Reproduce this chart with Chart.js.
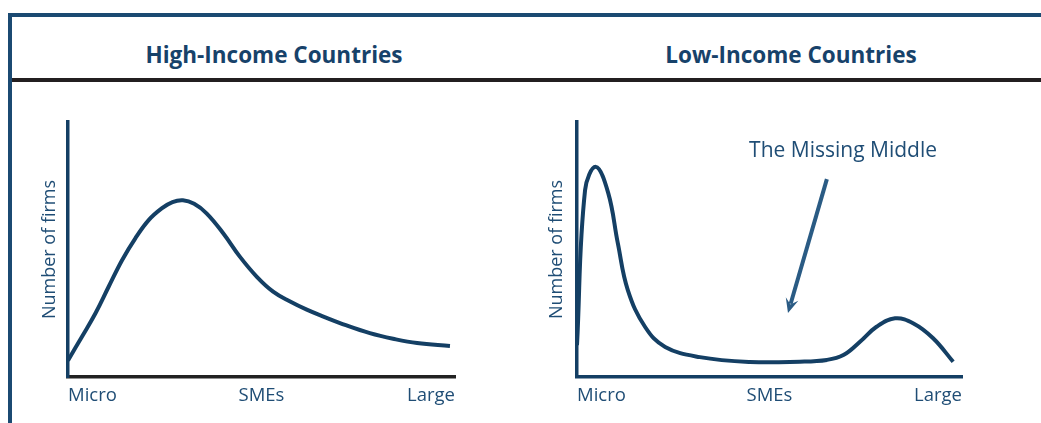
<!DOCTYPE html>
<html>
<head>
<meta charset="utf-8">
<script src="https://cdn.jsdelivr.net/npm/chart.js@4.4.0/dist/chart.umd.min.js"></script>
<style>
  html, body { margin: 0; padding: 0; background: #fff; }
  body { width: 1041px; height: 423px; position: relative; overflow: hidden; font-family: "Open Sans", sans-serif; }
  .rule { position: absolute; }
  .head { position: absolute; top: 39px; font-weight: 700; font-size: 22.5px; color: #17426a; text-align: center; line-height: 32px; white-space: nowrap; }
  .box { position: absolute; top: 90px; height: 333px; }
</style>
</head>
<body>
<div class="rule" style="left:8px;top:13px;width:1033px;height:4px;background:#1b4a72"></div>
<div class="rule" style="left:8px;top:13px;width:4px;height:410px;background:#1b4a72"></div>
<div class="rule" style="left:12px;top:78px;width:1029px;height:4px;background:#231f20"></div>
<div class="head" style="left:124px;width:300px">High-Income Countries</div>
<div class="head" style="left:641px;width:300px">Low-Income Countries</div>

<div class="box" style="left:0;width:520px"><canvas id="chart-high"></canvas></div>
<div class="box" style="left:520px;width:521px"><canvas id="chart-low"></canvas></div>

<script>
// 企業規模の分布（概念図）：x = 規模 0..100, y = 企業数 0..100
const sizeLabels = ['Micro', 'SMEs', 'Large'];
const sizeTicks = [0, 50, 100];
const yTitle = 'Number of firms';

const highX = [0, 3.6, 7.1, 10.5, 14.0, 17.4, 20.9, 24.3, 27.0, 29.7, 32.6, 35.8, 40.1, 44.4, 48.8, 53.0, 57.4, 61.7, 66.0, 72.0, 78.0, 84.0, 90.2, 98.7];
const highY = [6.5, 15.8, 25.0, 35.4, 45.9, 54.4, 61.6, 66.2, 68.6, 69.3, 67.9, 64.2, 56.4, 47.2, 39.3, 33.5, 29.6, 26.4, 23.7, 20.2, 17.2, 15.0, 13.3, 12.2];

const lowX = [0, 2.1, 4.9, 8.1, 10.6, 13.2, 17.7, 22.9, 31.9, 44.9, 57.9, 64.9, 69.2, 73.5, 77.8, 82.6, 87.4, 92.5, 97.7];
const lowY = [12.5, 73.3, 82.4, 72.2, 52.5, 34.1, 19.6, 11.8, 7.8, 5.9, 6.0, 6.7, 8.6, 13.8, 19.7, 23.0, 21.0, 15.2, 6.0];

// 矢印と注記（データ座標）
const noteText = 'The Missing Middle';
const notePos = [69.1, 88.6];
const arrowFrom = [64.9, 77.6];
const arrowTo = [54.8, 25.1];

const NAVY = '#143f64';
const TEXT = '#1f4d75';
const FONT = '"Open Sans", sans-serif';

function _points(xs, ys) {
  return xs.map((x, i) => ({ x, y: ys[i] }));
}

const arrowPlugin = {
  id: 'missingMiddle',
  afterDatasetsDraw(chart) {
    const { ctx, scales: { x, y } } = chart;
    const x1 = x.getPixelForValue(arrowFrom[0]), y1 = y.getPixelForValue(arrowFrom[1]);
    const x2 = x.getPixelForValue(arrowTo[0]), y2 = y.getPixelForValue(arrowTo[1]);
    const a = Math.atan2(y2 - y1, x2 - x1);
    const head = 16;
    ctx.save();
    ctx.strokeStyle = '#2a5b84';
    ctx.fillStyle = '#2a5b84';
    ctx.lineWidth = 4;
    ctx.beginPath();
    ctx.moveTo(x1, y1);
    ctx.lineTo(x2 - Math.cos(a) * head * 0.6, y2 - Math.sin(a) * head * 0.6);
    ctx.stroke();
    ctx.beginPath();
    ctx.moveTo(x2, y2);
    ctx.lineTo(x2 - head * Math.cos(a - 0.42), y2 - head * Math.sin(a - 0.42));
    ctx.lineTo(x2 - head * 0.55 * Math.cos(a), y2 - head * 0.55 * Math.sin(a));
    ctx.lineTo(x2 - head * Math.cos(a + 0.42), y2 - head * Math.sin(a + 0.42));
    ctx.closePath();
    ctx.fill();
    ctx.font = '21px ' + FONT;
    ctx.fillStyle = TEXT;
    ctx.textAlign = 'center';
    ctx.textBaseline = 'middle';
    ctx.fillText(noteText, x.getPixelForValue(notePos[0]), y.getPixelForValue(notePos[1]));
    ctx.restore();
  }
};

function drawPanel(id, xs, ys, opt) {
  return new Chart(document.getElementById(id), {
    type: 'line',
    data: {
      datasets: [{
        data: _points(xs, ys),
        borderColor: NAVY, borderWidth: 4,
        tension: 0.4,
        pointRadius: 0, fill: false, clip: false
      }]
    },
    options: {
      responsive: true, maintainAspectRatio: false, animation: false,
      layout: { padding: { top: 32, right: opt.padRight, bottom: 0, left: 0 } },
      plugins: { legend: { display: false }, tooltip: { enabled: false } },
      scales: {
        x: {
          type: 'linear', min: 0, max: 100,
          afterBuildTicks: s => { s.ticks = sizeTicks.map(v => ({ value: v })); },
          afterFit: s => { s.height = 46; },
          grid: { display: false, drawTicks: false },
          border: { color: opt.xAxisColor, width: 3.5 },
          ticks: {
            align: 'inner', padding: 8, color: TEXT, maxRotation: 0,
            font: { family: FONT, size: 18.5 },
            callback: (v, i) => sizeLabels[i]
          }
        },
        y: {
          min: 0, max: 100,
          afterFit: s => { s.width = opt.yWidth; },
          grid: { display: false, drawTicks: false },
          border: { color: NAVY, width: 3.5 },
          ticks: { display: false },
          title: {
            display: true, text: yTitle, color: TEXT,
            font: { family: FONT, size: 18 },
            padding: { top: opt.titlePad, bottom: 0 }
          }
        }
      }
    },
    plugins: opt.plugins || []
  });
}

drawPanel('chart-high', highX, highY, { padRight: 65, yWidth: 68, titlePad: 39, xAxisColor: '#222222' });
drawPanel('chart-low', lowX, lowY, { padRight: 79, yWidth: 57, titlePad: 26, xAxisColor: NAVY, plugins: [arrowPlugin] });
</script>
</body>
</html>
